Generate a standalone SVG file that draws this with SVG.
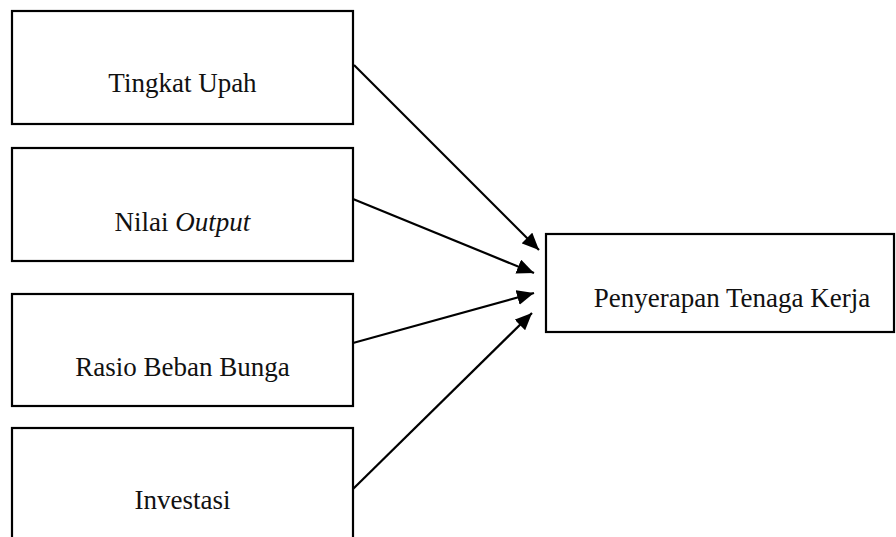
<svg xmlns="http://www.w3.org/2000/svg" width="896" height="537" viewBox="0 0 896 537">
  <style>
    .box { fill: #ffffff; stroke: #000000; stroke-width: 2.2; }
    .lbl { font-family: "Liberation Serif", "Times New Roman", serif; font-size: 27px; fill: #111111; text-anchor: middle; }
    .conn { stroke: #000000; stroke-width: 2.2; fill: none; marker-end: url(#arrow); }
  </style>
  <defs>
    <marker id="arrow" markerUnits="userSpaceOnUse" markerWidth="18" markerHeight="15" refX="17" refY="7.5" orient="auto">
      <path d="M0,0 L17,7.5 L0,15 z" fill="#000000"/>
    </marker>
  </defs>
  <rect width="896" height="537" fill="#ffffff"/>
  <g id="node-tingkat-upah">
    <rect class="box" x="12" y="11" width="341" height="113"/>
    <text class="lbl" x="182.5" y="92">Tingkat Upah</text>
  </g>
  <g id="node-nilai-output">
    <rect class="box" x="12" y="148" width="341" height="113"/>
    <text class="lbl" x="182.5" y="231">Nilai <tspan font-style="italic">Output</tspan></text>
  </g>
  <g id="node-rasio-beban-bunga">
    <rect class="box" x="12" y="294" width="341" height="112"/>
    <text class="lbl" x="182.5" y="376">Rasio Beban Bunga</text>
  </g>
  <g id="node-investasi">
    <rect class="box" x="12" y="428" width="341" height="120"/>
    <text class="lbl" x="182.5" y="509">Investasi</text>
  </g>
  <g id="node-penyerapan">
    <rect class="box" x="546" y="234" width="348" height="98"/>
    <text class="lbl" x="732" y="307">Penyerapan Tenaga Kerja</text>
  </g>
  <g id="connectors">
    <line class="conn" x1="354" y1="65" x2="539" y2="250"/>
    <line class="conn" x1="353" y1="199" x2="534" y2="273"/>
    <line class="conn" x1="353" y1="343" x2="534" y2="293"/>
    <line class="conn" x1="353" y1="489" x2="532" y2="313"/>
  </g>
</svg>
